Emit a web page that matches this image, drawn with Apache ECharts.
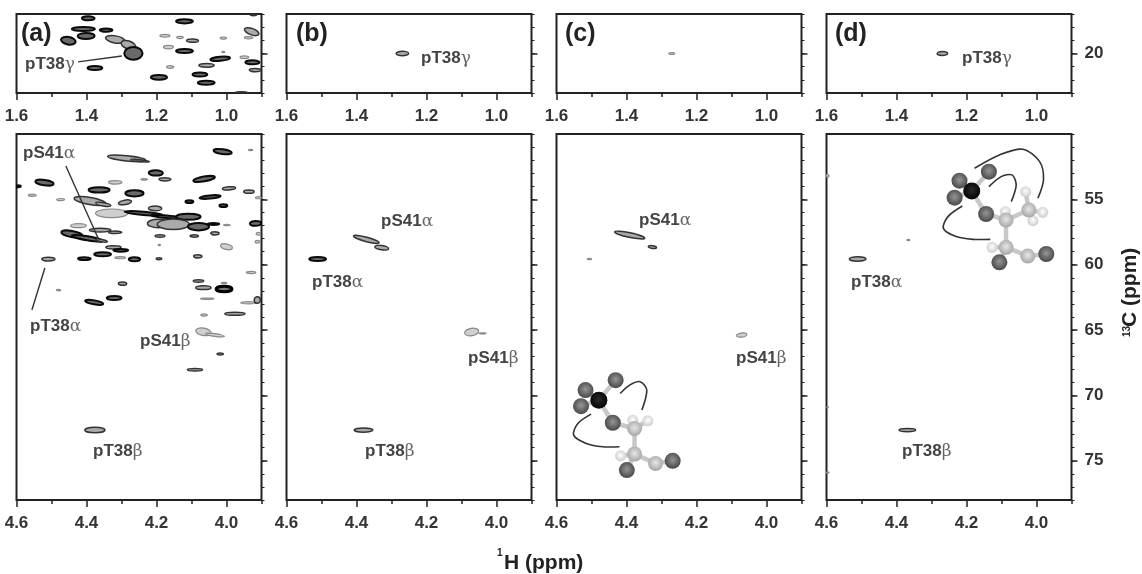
<!DOCTYPE html>
<html><head><meta charset="utf-8">
<style>html,body{margin:0;padding:0;background:#fff}#c{width:1142px;height:574px}#c canvas{filter:blur(0.7px)}</style>
<script src="https://cdn.jsdelivr.net/npm/echarts@6/dist/echarts.min.js"></script></head>
<body><div id="c"></div>
<script>
// peak rows: [1H ppm, 13C ppm, half width 1H, half width 13C, contour level 1-4, tilt deg]
const peaksATop = [
[1.395,17.33,.021,.23,3,0],[1.12,17.56,.027,.23,3,0],[1.409,18.14,.036,.23,3,0],[1.344,18.22,.021,.2,3,0],
[1.452,19.03,.024,.36,3,10],[1.401,18.67,.027,.3,3,0],[1.318,18.93,.03,.33,2,10],[1.28,19.36,.024,.36,2,20],
[1.266,19.99,.029,.56,3,0],[1.176,18.65,.016,.15,1,0],[1.133,18.78,.011,.13,1,0],[1.097,19.03,.019,.18,2,0],
[1.166,19.51,.016,.18,1,0],[1.12,19.81,.027,.23,3,0],[1.009,18.83,.011,.13,1,0],[1.376,21.1,.024,.23,3,0],
[1.161,21.03,.012,.15,1,0],[1.193,21.81,.026,.26,3,0],[1.076,21.59,.024,.23,3,0],[1.058,22.22,.027,.23,3,0],
[1.057,20.9,.024,.2,2,0],[1.018,20.4,.031,.23,3,-5],[1.009,19.89,.006,.08,1,0],[.949,20.29,.014,.15,1,0],
[.926,20.67,.023,.23,3,0],[.918,21.26,.019,.18,2,0],[.928,18.34,.024,.3,2,20],[.937,18.8,.014,.13,1,0],
[.923,17.08,.011,.08,2,0],[.957,22.95,.019,.05,2,0]];
const peaksABottom = [
[4.011,51.35,.029,.26,3,8],[3.931,51.22,.008,.08,1,0],[4.285,51.86,.057,.26,2,6],[4.247,52.04,.029,.13,2,6],
[4.202,52.98,.023,.28,3,0],[4.064,53.44,.034,.26,3,-10],[4.176,53.47,.019,.18,2,0],[4.235,53.47,.011,.1,1,0],
[4.318,53.7,.021,.18,1,0],[4.52,53.72,.029,.28,3,8],[4.595,54,.01,.15,3,0],[4.364,54.28,.033,.28,3,0],
[3.993,54.16,.021,.18,2,-5],[4.263,54.54,.029,.31,3,0],[3.936,54.41,.017,.18,2,0],[4.555,54.69,.013,.13,1,0],
[4.474,55.02,.013,.13,1,0],[4.39,55.13,.048,.33,2,10],[4.352,55.38,.024,.18,2,10],[4.29,55.23,.021,.23,2,-10],
[4.106,55.18,.014,.18,3,0],[4.047,54.82,.033,.2,3,-5],[4.009,55.48,.014,.18,3,0],[3.909,54.87,.01,.13,1,0],
[4.204,55.69,.021,.23,2,0],[4.328,56.07,.048,.38,1,0],[4.237,56.07,.057,.2,3,5],[4.171,56.33,.048,.18,3,5],
[4.109,56.33,.038,.31,3,0],[4.195,56.84,.033,.38,2,0],[4.152,56.91,.048,.46,2,0],[4.08,57.09,.033,.36,3,0],
[4.037,56.89,.019,.15,3,0],[3.999,56.96,.011,.1,1,0],[3.917,56.84,.019,.26,3,0],[4.423,57.01,.024,.2,1,0],
[4.361,57.35,.033,.2,2,0],[4.318,57.52,.021,.15,2,0],[4.033,57.6,.014,.18,2,0],[4.19,57.8,.016,.15,2,0],
[4.092,57.8,.014,.15,2,0],[3.909,57.63,.008,.15,1,0],[3.912,58.24,.008,.15,1,0],[4.442,57.65,.033,.31,3,10],
[4.397,57.98,.048,.23,3,10],[4.357,58.16,.019,.15,2,10],[4.192,58.49,.005,.08,1,0],[4,58.62,.019,.26,1,15],
[4.323,58.67,.024,.18,2,0],[4.302,58.9,.024,.18,3,0],[4.354,59.2,.027,.23,3,0],[4.406,59.54,.021,.18,3,0],
[4.509,59.57,.021,.2,2,0],[4.304,59.46,.017,.13,1,0],[4.263,59.59,.019,.23,3,0],[4.193,59.54,.01,.13,2,0],
[4.082,59.36,.014,.18,2,0],[3.93,60.59,.015,.13,1,0],[4.297,61.45,.014,.18,2,0],[4.48,61.94,.008,.1,1,0],
[4.08,61.25,.017,.15,2,0],[4.066,61.76,.024,.2,2,0],[4.007,61.86,.027,.33,4,0],[4.007,61.4,.01,.1,1,0],
[4.321,62.55,.024,.23,3,0],[4.378,62.88,.029,.23,3,10],[4.055,62.6,.021,.1,1,0],[3.937,62.91,.024,.13,1,0],
[3.912,62.7,.011,.31,2,0],[3.976,63.75,.031,.18,2,0],[4.064,63.85,.011,.13,1,0],[4.066,65.13,.024,.33,1,10],
[4.033,65.38,.029,.15,1,8],[4.018,66.83,.011,.13,2,0],[4.09,68.03,.024,.15,2,0],[4.376,72.65,.031,.27,2,0]];
const peaksBTop = [[1.269,20,.02,.22,2,0]];
const peaksBBottom = [[4.372,58.06,.04,.23,2,15],[4.328,58.7,.022,.22,2,8],[4.511,59.56,.027,.23,3,0],
[4.071,65.15,.022,.33,1,-10],[4.04,65.25,.012,.06,1,0],[4.38,72.65,.029,.22,2,0]];
const peaksCTop = [[1.271,20,.01,.12,1,0]];
const peaksCBottom = [[4.391,57.73,.046,.23,2,12],[4.326,58.65,.014,.16,2,8],[4.506,59.56,.008,.1,1,0],[4.071,65.38,.017,.2,1,-8]];
const peaksDTop = [[1.269,20,.017,.2,2,0]];
const peaksDBottom = [[4.511,59.56,.026,.23,2,0],[4.366,58.11,.006,.08,1,0],[4.369,72.65,.026,.18,2,0],
[4.597,53.2,.006,.15,1,0],[4.597,70.9,.004,.08,1,0],[4.597,75.9,.006,.08,1,0]];

// atoms: [1H ppm, 13C ppm, element]; bonds: atom index pairs
const atomsC = [[4.431,68.83,'O'],[4.517,69.59,'O'],[4.53,70.82,'O'],[4.439,72.09,'O'],[4.382,71.89,'H'],[4.339,71.94,'H'],
[4.377,72.53,'C'],[4.417,74.62,'H'],[4.377,74.49,'C'],[4.317,75.2,'C'],[4.399,75.71,'O'],[4.268,75,'O'],[4.479,70.36,'P']];
const bondsC = [[12,0],[12,1],[12,2],[12,3],[3,6],[6,4],[6,5],[6,8],[8,7],[8,9],[8,10],[9,11]];
const atomsD = [[4.136,52.88,'O'],[4.22,53.57,'O'],[4.234,54.87,'O'],[4.144,56.12,'O'],[4.089,55.94,'H'],[4.031,54.41,'H'],
[3.982,55.99,'H'],[4.01,56.63,'H'],[4.022,55.81,'C'],[4.087,56.58,'C'],[4.127,58.67,'H'],[4.087,58.67,'C'],[4.025,59.33,'C'],
[4.106,59.82,'O'],[3.972,59.18,'O'],[4.185,54.36,'P']];
const bondsD = [[15,0],[15,1],[15,2],[15,3],[3,9],[9,4],[9,8],[8,5],[8,6],[8,7],[9,11],[11,10],[11,12],[11,13],[12,14]];
const arcsC = [
[[4.418,69.85],[4.391,69.21],[4.361,68.95],[4.342,69.59],[4.356,71.12]],
[[4.501,71.43],[4.539,72.14],[4.551,73.04],[4.515,73.67],[4.468,73.93],[4.42,73.93]]];
const arcsD = [
[[4.177,52.62],[4.106,51.6],[4.039,51.17],[3.991,52.11],[3.98,53.52],[3.996,54.92]],
[[4.136,54.03],[4.101,53.26],[4.07,53.13],[4.058,53.9],[4.072,55.17]],
[[4.212,55.51],[4.253,56.32],[4.266,57.22],[4.23,57.85],[4.182,58.06],[4.132,58.06]]];
const leadersATop = [[[1.424,20.64],[1.299,20.19]]];
const leadersABottom = [[[4.459,52.45],[4.367,57.96]],[[4.519,60.25],[4.556,63.47]]];

const topXLabels = [1.0,1.2,1.4,1.6];
const bottomXLabels = [4.0,4.2,4.4,4.6];
const topYLabels = [20];
const bottomYLabels = [55,60,65,70,75];
const panelNames = ['(a)','(b)','(c)','(d)'];
const panelNameX = [21,296,565,835];
const annotations = [
['pT38','γ',25,63],['pS41','α',23,152],['pT38','α',30,325],['pS41','β',140,340],['pT38','β',93,450],
['pT38','γ',421,57],['pS41','α',381,220],['pT38','α',312,281],['pS41','β',468,357],['pT38','β',365,450],
['pS41','α',639,219],['pS41','β',736,357],
['pT38','γ',962,57],['pT38','α',851,281],['pT38','β',902,450]];

const lefts = [16.5,286.5,556.5,826.5];
const panelW = 245;
const rows = [
 {top:14,h:79,xmin:.9,xmax:1.6,ymin:17,ymax:23,xl:topXLabels,yl:topYLabels},
 {top:134,h:366,xmin:3.9,xmax:4.6,ymin:50,ymax:78,xl:bottomXLabels,yl:bottomYLabels}];
const allPeaks = [[peaksATop,peaksABottom],[peaksBTop,peaksBBottom],[peaksCTop,peaksCBottom],[peaksDTop,peaksDBottom]];
const INK='#222', FONT='"Liberation Sans",Arial,sans-serif';
const lv = {4:{s:'#000',w:3,f:'#777'},3:{s:'#0a0a0a',w:2,f:'#6a6a6a'},2:{s:'#333',w:1.5,f:'#aaa'},1:{s:'#888',w:1.2,f:'#cfcfcf'}};
const atomStyle = {P:{r:8.5,c0:'#2a2a2a',c1:'#000'},O:{r:8,c0:'#969696',c1:'#404040'},C:{r:7.5,c0:'#e6e6e6',c1:'#a0a0a0'},H:{r:5.5,c0:'#fff',c1:'#c8c8c8'}};

function renderPeak(p,api){
  const c=api.coord([api.value(0),api.value(1)]);
  const sz=api.size([api.value(2),api.value(3)]);
  const st=lv[api.value(4)];
  return {type:'ellipse',x:c[0],y:c[1],rotation:-api.value(5)*Math.PI/180,
    shape:{cx:0,cy:0,rx:Math.max(sz[0]-st.w/2,.8),ry:Math.max(sz[1]-st.w/2,.6)},
    style:{fill:st.f,stroke:st.s,lineWidth:st.w}};
}
const grids=[],xAxes=[],yAxes=[],series=[];
lefts.forEach((L,pi)=>rows.forEach((R,ri)=>{
  const g=grids.length;
  grids.push({left:L,top:R.top,width:panelW,height:R.h,show:true,borderColor:INK,borderWidth:2,backgroundColor:'transparent'});
  const base={gridIndex:g,type:'value',splitLine:{show:false},axisLine:{show:false}};
  xAxes.push({...base,position:'bottom',inverse:true,min:R.xmin,max:R.xmax,interval:.1,
    axisTick:{length:4,lineStyle:{color:INK,width:1.5}},axisLabel:{show:false}});
  xAxes.push({...base,position:'bottom',inverse:true,min:R.xmin,max:R.xmax,
    axisTick:{length:7,customValues:R.xl,lineStyle:{color:INK,width:1.5}},
    axisLabel:{customValues:R.xl,margin:15,formatter:v=>(+v).toFixed(1),color:'#333',fontFamily:FONT,fontWeight:'bold',fontSize:17}});
  yAxes.push({...base,position:'right',inverse:true,min:R.ymin,max:R.ymax,interval:1,
    axisTick:{length:3,lineStyle:{color:INK,width:1}},axisLabel:{show:false}});
  yAxes.push({...base,position:'right',inverse:true,min:R.ymin,max:R.ymax,
    axisTick:{length:6,customValues:R.yl,lineStyle:{color:INK,width:1.5}},
    axisLabel:{show:pi===3,customValues:R.yl,margin:13,color:'#333',fontFamily:FONT,fontWeight:'bold',fontSize:17}});
  const ax={xAxisIndex:2*g,yAxisIndex:2*g,coordinateSystem:'cartesian2d',type:'custom',silent:true,animation:false,clip:true};
  series.push({...ax,name:'peaks '+panelNames[pi]+(ri?' bottom':' top'),renderItem:renderPeak,encode:{x:0,y:1},
    dimensions:['H','C','wH','wC','level','tilt'],data:allPeaks[pi][ri]});
  const pathSeries=(arr,style)=>series.push({...ax,z:5,encode:{x:0,y:1},data:arr.map(a=>a[0]),
    renderItem:(p,api)=>({type:'polyline',shape:{points:arr[p.dataIndex].map(q=>api.coord(q)),smooth:style.smooth||0},
      style:{fill:null,stroke:style.stroke,lineWidth:style.width}})});
  if(pi===0) pathSeries(ri?leadersABottom:leadersATop,{stroke:'#333',width:1.4});
  if(ri===1&&pi>=2){
    const atoms=pi===2?atomsC:atomsD, bonds=pi===2?bondsC:bondsD, arcs=pi===2?arcsC:arcsD;
    pathSeries(arcs,{stroke:'#333',width:1.6,smooth:.3});
    series.push({...ax,z:6,encode:{x:0,y:1},data:bonds.map(b=>atoms[b[0]].slice(0,2)),
      renderItem:(p,api)=>{const b=bonds[p.dataIndex];
        return {type:'line',shape:(()=>{const a=api.coord(atoms[b[0]]),d=api.coord(atoms[b[1]]);return{x1:a[0],y1:a[1],x2:d[0],y2:d[1]}})(),
          style:{stroke:'#c8c8c8',lineWidth:4.5}}}});
    series.push({...ax,z:7,encode:{x:0,y:1},data:atoms.map(a=>a.slice(0,2)),
      renderItem:(p,api)=>{const a=atoms[p.dataIndex],s=atomStyle[a[2]],c=api.coord(a);
        return {type:'circle',shape:{cx:c[0],cy:c[1],r:s.r},
          style:{fill:new echarts.graphic.RadialGradient(.5,.45,.6,[{offset:0,color:s.c0},{offset:1,color:s.c1}])}}}});
  }
}));
const graphic=[];
panelNames.forEach((t,i)=>graphic.push({type:'text',left:panelNameX[i],top:22,z:20,style:{text:t,fill:'#222',font:'bold 25px '+FONT}}));
annotations.forEach(a=>graphic.push({type:'text',left:a[2],top:a[3]-7,z:20,style:{
  text:'{m|'+a[0]+'}{g|'+a[1]+'}',fill:'#444',
  rich:{m:{font:'bold 17px '+FONT,fill:'#444'},g:{font:'17px "DejaVu Serif",serif',fill:'#666'}}}}));
graphic.push({type:'text',left:497,top:548,z:20,style:{text:'1',fill:'#222',font:'bold 10px '+FONT}});
graphic.push({type:'text',left:504,top:553,z:20,style:{text:'H (ppm)',fill:'#222',font:'bold 21px '+FONT}});
graphic.push({type:'text',x:1122,y:337,rotation:Math.PI/2,z:20,style:{text:'13',fill:'#222',font:'bold 10px '+FONT,align:'left',verticalAlign:'top'}});
graphic.push({type:'text',x:1141,y:327,rotation:Math.PI/2,z:20,style:{text:'C (ppm)',fill:'#222',font:'bold 21px '+FONT,align:'left',verticalAlign:'bottom'}});
const chart=echarts.init(document.getElementById('c'),null,{renderer:'canvas'});
chart.setOption({animation:false,backgroundColor:'#fff',grid:grids,xAxis:xAxes,yAxis:yAxes,series,graphic});
</script></body></html>
